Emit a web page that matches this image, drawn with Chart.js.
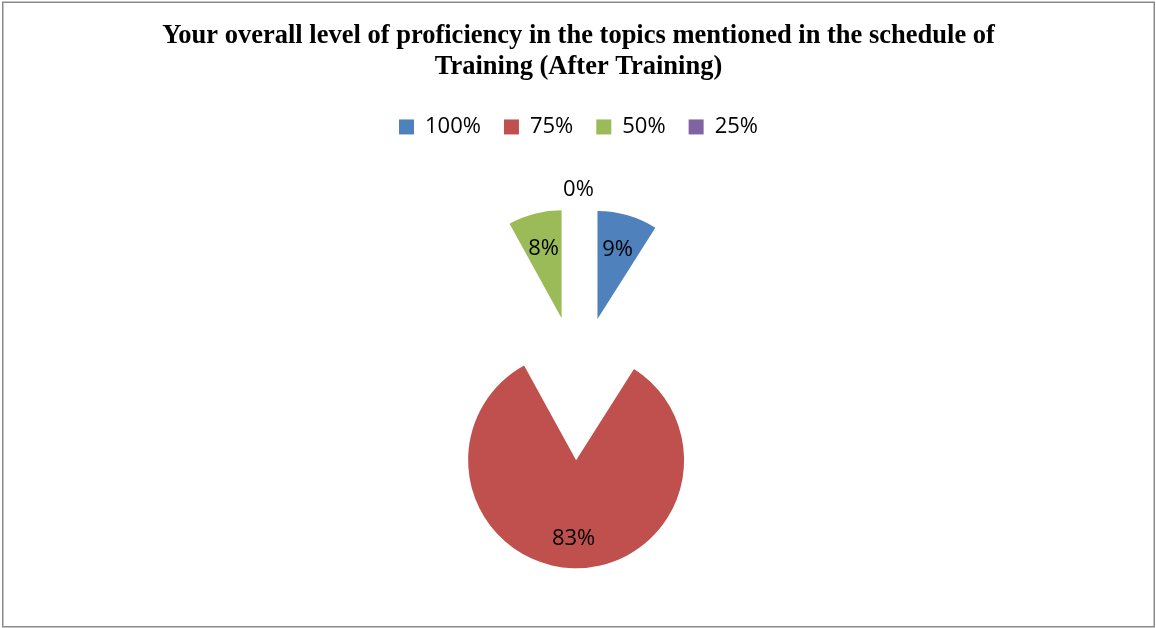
<!DOCTYPE html>
<html><head><meta charset="utf-8">
<script src="https://cdn.jsdelivr.net/npm/chart.js@4/dist/chart.umd.min.js"></script>
<style>html,body{margin:0;padding:0;background:#fff}#wrap{width:1156px;height:628px;position:relative}</style>
</head><body><div id="wrap"><canvas id="c" width="1156" height="628"></canvas></div>
<script>
// ---- data ----
const categories = ['100%', '75%', '50%', '25%'];
const shares = [9, 83, 8, 0];
const titleLines = ['Your overall level of proficiency in the topics mentioned in the schedule of', 'Training (After Training)'];

// ---- styles ----
const sliceColors = ['#4F81BD', '#C0504D', '#9BBB59', '#8064A2'];
const explodePx = [68, 76, 68, 68];
const labelRadiusFrac = [0.67, 0.73, 0.67, 1.17];
const PIE_R = 108;

const framePlugin = {
  id: 'frame',
  beforeDraw(chart) {
    const ctx = chart.ctx;
    ctx.save();
    ctx.fillStyle = '#fff';
    ctx.fillRect(0, 0, chart.width, chart.height);
    ctx.strokeStyle = '#8a8a8a';
    ctx.lineWidth = 1.5;
    ctx.strokeRect(2.75, 2.25, chart.width - 4.5, chart.height - 3.5);
    ctx.restore();
  }
};

// Exploded slices: shift each arc outward along its mid-angle (keeps radius and angles intact)
const baseArcDraw = Chart.ArcElement.prototype.draw;
const explodePlugin = {
  id: 'explode',
  afterDatasetUpdate(chart, args) {
    args.meta.data.forEach((el, i) => {
      el.draw = function (ctx, area) {
        const mid = (this.startAngle + this.endAngle) / 2;
        const d = explodePx[i] || 0;
        ctx.save();
        ctx.translate(Math.cos(mid) * d, Math.sin(mid) * d);
        baseArcDraw.call(this, ctx, area);
        ctx.restore();
      };
    });
  }
};

const sliceLabelPlugin = {
  id: 'sliceLabels',
  afterDatasetsDraw(chart) {
    const ctx = chart.ctx;
    const meta = chart.getDatasetMeta(0);
    const vals = chart.data.datasets[0].data;
    ctx.save();
    ctx.font = '22px "Open Sans"';
    ctx.fillStyle = '#000';
    ctx.textAlign = 'center';
    ctx.textBaseline = 'middle';
    meta.data.forEach((el, i) => {
      const mid = (el.startAngle + el.endAngle) / 2;
      const d = explodePx[i] + labelRadiusFrac[i] * el.outerRadius;
      const x = el.x + Math.cos(mid) * d;
      const y = el.y + Math.sin(mid) * d;
      ctx.fillText(vals[i] + '%', x, y);
    });
    ctx.restore();
  }
};

new Chart(document.getElementById('c'), {
  type: 'pie',
  data: {
    labels: categories,
    datasets: [{
      data: shares,
      backgroundColor: sliceColors,
      borderWidth: 0
    }]
  },
  options: {
    responsive: false,
    devicePixelRatio: 1,
    animation: false,
    radius: PIE_R,
    layout: { padding: { top: 0, bottom: 7.5, left: 1, right: 0 } },
    plugins: {
      title: {
        display: true,
        text: titleLines,
        color: '#000',
        font: { family: '"Liberation Serif"', size: 26.5, weight: 'bold', lineHeight: 1.15 },
        padding: { top: 21, bottom: 11 }
      },
      legend: {
        display: true,
        position: 'top',
        labels: {
          color: '#000',
          boxWidth: 15,
          boxHeight: 15,
          padding: 23,
          font: { family: '"Open Sans"', size: 22 }
        }
      },
      tooltip: { enabled: false }
    }
  },
  plugins: [framePlugin, explodePlugin, sliceLabelPlugin]
});
</script></body></html>
